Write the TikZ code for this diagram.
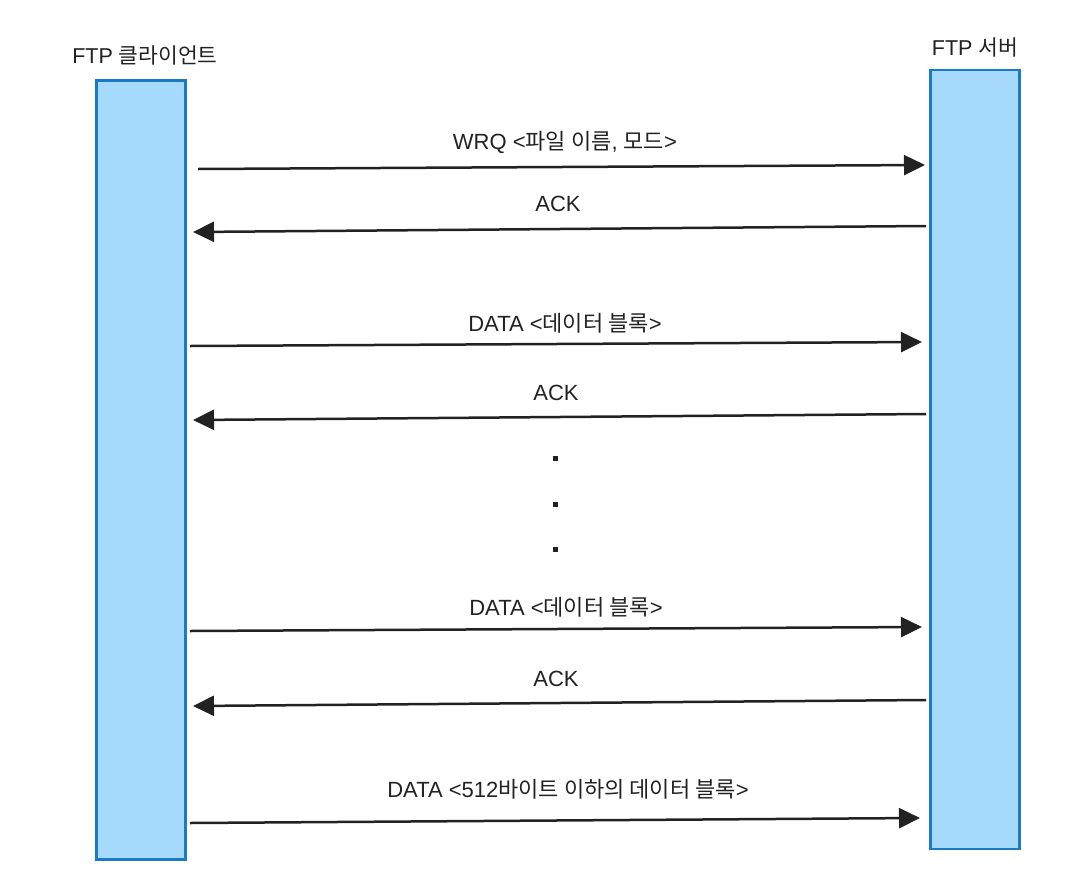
\documentclass[tikz,border=0pt]{standalone}
\usepackage{fontspec}
\setmainfont{Liberation Sans}
\newfontfamily\krfont{Noto Sans CJK KR}
\usetikzlibrary{arrows.meta, positioning}
\definecolor{barFill}{HTML}{A5DAFC}
\definecolor{barEdge}{HTML}{1A7AC6}
\definecolor{msgInk}{HTML}{222222}
\newcommand{\ko}[1]{{\krfont #1}}
\tikzset{
  lifebar/.style  = {draw=barEdge, fill=barFill, line width=2.8pt,
                     minimum width=89pt, minimum height=779pt, inner sep=0pt},
  msg/.style      = {-{Triangle[length=21pt, width=20pt]}, msgInk, line width=2.5pt},
  msglbl/.style   = {font=\fontsize{22}{26}\selectfont, text=msgInk, inner sep=0pt},
  ttl/.style      = {font=\fontsize{21.5}{25}\selectfont, text=msgInk, inner sep=0pt},
  gapdot/.style   = {fill=msgInk, minimum size=5pt, inner sep=0pt},
}

\begin{document}
\begin{tikzpicture}[x=1pt,y=-1pt]
  \useasboundingbox (0,0) rectangle (1080,887);
  % lifelines
  \node[lifebar] (client) at (141,470) {};
  \node[lifebar] (server) at (975,459.5) {};
  \node[ttl] (clientT) at (145,55) {FTP \ko{클라이언트}};
  \node[ttl] (serverT) at (975,47) {FTP \ko{서버}};
  % message ends
  \coordinate (wrqA) at (198,169);  \coordinate (wrqB) at (925,165);
  \coordinate (ack1A) at (926,226); \coordinate (ack1B) at (193,232);
  \coordinate (dat1A) at (190,346); \coordinate (dat1B) at (922,342);
  \coordinate (ack2A) at (926,414); \coordinate (ack2B) at (193,420);
  \coordinate (dat2A) at (190,631); \coordinate (dat2B) at (922,627);
  \coordinate (ack3A) at (926,700); \coordinate (ack3B) at (193,706);
  \coordinate (dat3A) at (190,823); \coordinate (dat3B) at (920,818);
  % messages
  \draw[msg] (wrqA) -- (wrqB);
  \node[msglbl] (wrqL) at (565,142) {WRQ <\ko{파일 이름}, \ko{모드}>};
  \draw[msg] (ack1A) -- (ack1B);
  \node[msglbl] (ack1L) at (558,204) {ACK};
  \draw[msg] (dat1A) -- (dat1B);
  \node[msglbl] (dat1L) at (565,323) {DATA <\ko{데이터 블록}>};
  \draw[msg] (ack2A) -- (ack2B);
  \node[msglbl] (ack2L) at (556,393) {ACK};
  % skipped blocks
  \node[gapdot] (gap1) at (555,458) {};
  \node[gapdot] (gap2) at (555,504) {};
  \node[gapdot] (gap3) at (555,549.5) {};
  \draw[msg] (dat2A) -- (dat2B);
  \node[msglbl] (dat2L) at (566,607) {DATA <\ko{데이터 블록}>};
  \draw[msg] (ack3A) -- (ack3B);
  \node[msglbl] (ack3L) at (556,679) {ACK};
  \draw[msg] (dat3A) -- (dat3B);
  \node[msglbl] (dat3L) at (568,789) {DATA <512\ko{바이트 이하의 데이터 블록}>};
\end{tikzpicture}
\end{document}
